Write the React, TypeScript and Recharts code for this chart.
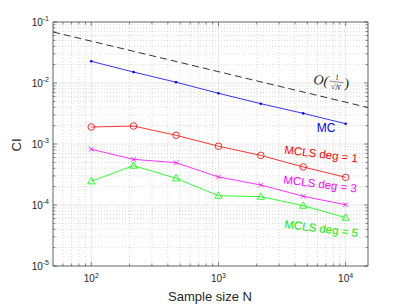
import React from "react";
import { LineChart, Line, XAxis, YAxis, ReferenceLine, ReferenceDot } from "recharts";

// ---- data ----
const sampleSizes = [100, 215, 464, 1000, 2154, 4642, 10000];
const mcValues = [0.0227, 0.0151, 0.0103, 0.00678, 0.00458, 0.00318, 0.00215];
const mcls1Values = [0.0019, 0.00197, 0.00139, 0.00092, 0.00065, 0.00042, 0.000284];
const mcls3Values = [0.00082, 0.00056, 0.000494, 0.000288, 0.000213, 0.000139, 0.000101];
const mcls5Values = [0.000245, 0.000442, 0.000274, 0.000142, 0.000137, 0.0000975, 0.000062];
const refN = [50, 15000];
const refValues = [0.0686, 0.00396];

const xDomain = [50, 15000];
const yDomain = [1e-5, 1e-1];
const xTicks = [60, 70, 80, 90, 100, 200, 300, 400, 500, 600, 700, 800, 900, 1000, 2000, 3000, 4000, 5000, 6000, 7000, 8000, 9000, 10000];
const yTicks = [
  1e-5, 2e-5, 3e-5, 4e-5, 5e-5, 6e-5, 7e-5, 8e-5, 9e-5,
  1e-4, 2e-4, 3e-4, 4e-4, 5e-4, 6e-4, 7e-4, 8e-4, 9e-4,
  1e-3, 2e-3, 3e-3, 4e-3, 5e-3, 6e-3, 7e-3, 8e-3, 9e-3,
  1e-2, 2e-2, 3e-2, 4e-2, 5e-2, 6e-2, 7e-2, 8e-2, 9e-2,
  1e-1,
];

const rows = sampleSizes.map((n, i) => ({
  N: n,
  mc: mcValues[i],
  m1: mcls1Values[i],
  m3: mcls3Values[i],
  m5: mcls5Values[i],
}));
const refRows = refN.map((n, i) => ({ N: n, ref: refValues[i] }));

const FONT = "'Liberation Sans', Arial, Helvetica, sans-serif";
const AXIS = "#3a3a3a";
const TXT = "#262626";

const isDecade = (v: number) => Math.abs(Math.log10(v) - Math.round(Math.log10(v))) < 1e-9;
const expOf = (v: number) => String(Math.round(Math.log10(v)));

const BottomTick = (props: any) => {
  const { x, y, payload } = props;
  const v = payload.value;
  const major = isDecade(v);
  return (
    <g>
      <line x1={x} y1={y} x2={x} y2={y - (major ? 4 : 2.5)} stroke={AXIS} strokeWidth={0.6} />
      {major && (
        <text x={x} y={y + 16} textAnchor="middle" fontSize={10} fill={TXT} fontFamily={FONT}>
          10<tspan dy={-4.5} fontSize={7}>{expOf(v)}</tspan>
        </text>
      )}
    </g>
  );
};

const TopTick = (props: any) => {
  const { x, y, payload } = props;
  const major = isDecade(payload.value);
  return <line x1={x} y1={y} x2={x} y2={y + (major ? 4 : 2.5)} stroke={AXIS} strokeWidth={0.6} />;
};

const LeftTick = (props: any) => {
  const { x, y, payload } = props;
  const v = payload.value;
  const major = isDecade(v);
  return (
    <g>
      <line x1={x} y1={y} x2={x + (major ? 4 : 2.5)} y2={y} stroke={AXIS} strokeWidth={0.6} />
      {major && (
        <text x={x - 4} y={y + 3.5} textAnchor="end" fontSize={10} fill={TXT} fontFamily={FONT}>
          10<tspan dy={-4.5} fontSize={7}>{expOf(v)}</tspan>
        </text>
      )}
    </g>
  );
};

const RightTick = (props: any) => {
  const { x, y, payload } = props;
  const major = isDecade(payload.value);
  return <line x1={x} y1={y} x2={x - (major ? 4 : 2.5)} y2={y} stroke={AXIS} strokeWidth={0.6} />;
};

const BlueDot = (p: any) => <circle key={p.index} cx={p.cx} cy={p.cy} r={1.3} fill="#0000ff" />;
const RedDot = (p: any) => (
  <circle key={p.index} cx={p.cx} cy={p.cy} r={3.3} fill="none" stroke="#ff0000" strokeWidth={0.8} />
);
const MagDot = (p: any) => (
  <path
    key={p.index}
    d={`M${p.cx - 2.4},${p.cy - 2.4}L${p.cx + 2.4},${p.cy + 2.4}M${p.cx - 2.4},${p.cy + 2.4}L${p.cx + 2.4},${p.cy - 2.4}`}
    stroke="#ff00ff"
    strokeWidth={0.8}
    fill="none"
  />
);
const GreenDot = (p: any) => (
  <path
    key={p.index}
    d={`M${p.cx},${p.cy - 3.8}L${p.cx + 3.6},${p.cy + 2.6}L${p.cx - 3.6},${p.cy + 2.6}Z`}
    stroke="#00ff00"
    strokeWidth={0.8}
    fill="none"
  />
);

const centerOf = (props: any) => {
  const vb = props.viewBox || {};
  return { cx: (vb.x ?? 0) + (vb.width ?? 0) / 2, cy: (vb.y ?? 0) + (vb.height ?? 0) / 2 };
};

const textLabel = (text: string, color: string, angle: number, size: number) => (props: any) => {
  const { cx, cy } = centerOf(props);
  return (
    <text
      x={cx}
      y={cy}
      textAnchor="middle"
      dominantBaseline="central"
      fill={color}
      fontSize={size}
      fontFamily={FONT}
      transform={`rotate(${angle} ${cx} ${cy})`}
    >
      {text}
    </text>
  );
};

const orderLabel = (props: any) => {
  const { cx, cy } = centerOf(props);
  return (
    <g transform={`rotate(7 ${cx} ${cy})`} fill={TXT} fontFamily="'Liberation Serif', 'DejaVu Serif', serif">
      <text x={cx - 18} y={cy + 5} fontSize={14} fontStyle="italic">O(</text>
      <text x={cx + 5} y={cy - 1.5} fontSize={8} textAnchor="middle">1</text>
      <line x1={cx - 2} y1={cy + 0.3} x2={cx + 12} y2={cy + 0.3} stroke={TXT} strokeWidth={0.5} />
      <text x={cx + 5} y={cy + 8} fontSize={8} textAnchor="middle" fontStyle="italic">√N</text>
      <text x={cx + 13} y={cy + 5} fontSize={14}>)</text>
    </g>
  );
};

const xMinor = xTicks.filter((v) => !isDecade(v));
const xMajor = xTicks.filter((v) => isDecade(v));
const yMinor = yTicks.filter((v) => !isDecade(v));
const yMajor = yTicks.filter((v) => isDecade(v) && v > yDomain[0] && v < yDomain[1]);

export default function App() {
  return (
    <div style={{ position: "fixed", left: 0, top: 0, width: 407, height: 305, background: "#fff" }}>
      <LineChart width={407} height={305} data={rows} margin={{ top: 20, right: 37, bottom: 9, left: 8 }}>
        <XAxis
          xAxisId="b"
          dataKey="N"
          type="number"
          scale="log"
          domain={xDomain}
          allowDataOverflow
          ticks={xTicks}
          interval={0}
          tick={<BottomTick />}
          tickSize={0}
          tickMargin={0}
          tickLine={false}
          axisLine={{ stroke: AXIS, strokeWidth: 0.8 }}
          height={30}
        />
        <XAxis
          xAxisId="t"
          orientation="top"
          dataKey="N"
          type="number"
          scale="log"
          domain={xDomain}
          allowDataOverflow
          ticks={xTicks}
          interval={0}
          tick={<TopTick />}
          tickSize={0}
          tickMargin={0}
          tickLine={false}
          axisLine={{ stroke: AXIS, strokeWidth: 0.8 }}
          height={2}
        />
        <YAxis
          yAxisId="l"
          type="number"
          scale="log"
          domain={yDomain}
          allowDataOverflow
          ticks={yTicks}
          interval={0}
          tick={<LeftTick />}
          tickSize={0}
          tickMargin={0}
          tickLine={false}
          axisLine={{ stroke: AXIS, strokeWidth: 0.8 }}
          width={45}
        />
        <YAxis
          yAxisId="r"
          orientation="right"
          type="number"
          scale="log"
          domain={yDomain}
          allowDataOverflow
          ticks={yTicks}
          interval={0}
          tick={<RightTick />}
          tickSize={0}
          tickMargin={0}
          tickLine={false}
          axisLine={{ stroke: AXIS, strokeWidth: 0.8 }}
          width={2}
        />

        {xMinor.map((v) => (
          <ReferenceLine key={"xm" + v} x={v} xAxisId="b" yAxisId="l" stroke="#c4c4c4" strokeWidth={0.6} strokeDasharray="1 2" />
        ))}
        {yMinor.map((v) => (
          <ReferenceLine key={"ym" + v} y={v} xAxisId="b" yAxisId="l" stroke="#c4c4c4" strokeWidth={0.6} strokeDasharray="1 2" />
        ))}
        {xMajor.map((v) => (
          <ReferenceLine key={"xM" + v} x={v} xAxisId="b" yAxisId="l" stroke="#e2e2e2" strokeWidth={0.8} />
        ))}
        {yMajor.map((v) => (
          <ReferenceLine key={"yM" + v} y={v} xAxisId="b" yAxisId="l" stroke="#e2e2e2" strokeWidth={0.8} />
        ))}

        <Line
          data={refRows}
          xAxisId="b"
          yAxisId="l"
          dataKey="ref"
          stroke="#000"
          strokeWidth={0.8}
          strokeDasharray="7 4"
          dot={false}
          isAnimationActive={false}
        />
        <Line xAxisId="b" yAxisId="l" dataKey="mc" stroke="#0000ff" strokeWidth={0.8} dot={BlueDot} isAnimationActive={false} />
        <Line xAxisId="b" yAxisId="l" dataKey="m1" stroke="#ff0000" strokeWidth={0.8} dot={RedDot} isAnimationActive={false} />
        <Line xAxisId="b" yAxisId="l" dataKey="m3" stroke="#ff00ff" strokeWidth={0.8} dot={MagDot} isAnimationActive={false} />
        <Line xAxisId="b" yAxisId="l" dataKey="m5" stroke="#00ff00" strokeWidth={0.8} dot={GreenDot} isAnimationActive={false} />

        <ReferenceDot xAxisId="b" yAxisId="l" x={7760} y={0.0108} r={0.01} fill="none" stroke="none" label={orderLabel} />
        <ReferenceDot xAxisId="b" yAxisId="l" x={7030} y={0.00183} r={0.01} fill="none" stroke="none" label={textLabel("MC", "#0000ff", 0, 12)} />
        <ReferenceDot xAxisId="b" yAxisId="l" x={6430} y={0.000685} r={0.01} fill="none" stroke="none" label={textLabel("MCLS deg = 1", "#ff0000", 7, 11.5)} />
        <ReferenceDot xAxisId="b" yAxisId="l" x={6310} y={0.000221} r={0.01} fill="none" stroke="none" label={textLabel("MCLS deg = 3", "#ff00ff", 7, 11.5)} />
        <ReferenceDot xAxisId="b" yAxisId="l" x={6430} y={0.0000412} r={0.01} fill="none" stroke="none" label={textLabel("MCLS deg = 5", "#00ee00", 7, 11.5)} />
      </LineChart>
      <svg width={407} height={305} style={{ position: "absolute", left: 0, top: 0, pointerEvents: "none" }}>
        <text x={210} y={300.5} textAnchor="middle" fontSize={13} fill={TXT} fontFamily={FONT}>
          Sample size N
        </text>
        <text x={21} y={145} textAnchor="middle" fontSize={13} fill={TXT} fontFamily={FONT} transform="rotate(-90 21 145)">
          CI
        </text>
      </svg>
    </div>
  );
}
